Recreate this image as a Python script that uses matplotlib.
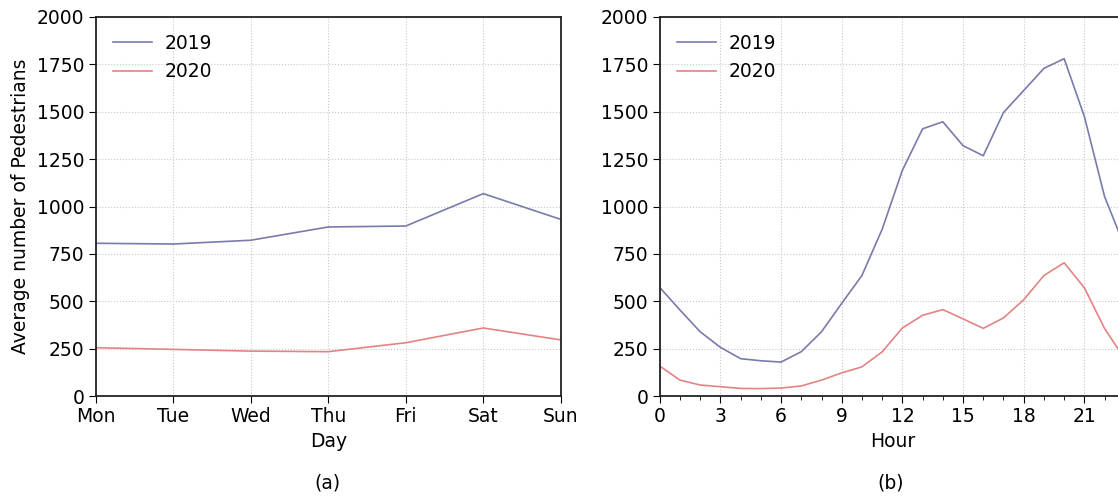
import matplotlib
matplotlib.use("Agg")
import matplotlib.pyplot as plt
from matplotlib.ticker import MultipleLocator

days = ["Mon", "Tue", "Wed", "Thu", "Fri", "Sat", "Sun"]
day_2019 = [806, 802, 822, 892, 897, 1068, 932]
day_2020 = [255, 246, 237, 234, 281, 359, 296]

hours = list(range(24))
hour_2019 = [573, 454, 339, 257, 197, 186, 179, 234, 339, 489, 636, 880,
             1191, 1410, 1447, 1321, 1268, 1496, 1612, 1729, 1780, 1475, 1052, 786]
hour_2020 = [158, 84, 58, 49, 40, 39, 42, 53, 84, 122, 154, 233,
             359, 426, 456, 407, 357, 412, 508, 636, 703, 571, 356, 195]

c19 = "#7a7aac"
c20 = "#e48383"

plt.rcParams["font.size"] = 13.5
fig = plt.figure(figsize=(11.18, 4.97), dpi=100)

# right panel runs a little past the edge of the canvas
ax1 = fig.add_axes([0.0856, 0.2032, 0.416, 0.7626])
ax2 = fig.add_axes([0.5901, 0.2032, 0.416, 0.7626])

ax1.plot(range(len(days)), day_2019, color=c19, lw=1.2, label="2019")
ax1.plot(range(len(days)), day_2020, color=c20, lw=1.2, label="2020")
ax1.set_xticks(range(len(days)))
ax1.set_xticklabels(days)
ax1.set_xlim(0, 6)
ax1.set_xlabel("Day", labelpad=4)
ax1.set_ylabel("Average number of Pedestrians", labelpad=5)

ax2.plot(hours, hour_2019, color=c19, lw=1.2, label="2019")
ax2.plot(hours, hour_2020, color=c20, lw=1.2, label="2020")
ax2.set_xlim(0, 23)
ax2.xaxis.set_major_locator(MultipleLocator(3))
ax2.xaxis.set_minor_locator(MultipleLocator(1))
ax2.set_xlabel("Hour", labelpad=4)

for ax in (ax1, ax2):
    ax.set_ylim(0, 2000)
    ax.yaxis.set_major_locator(MultipleLocator(250))
    ax.grid(True, linestyle=":", color="#c8c8c8", lw=0.8)
    ax.tick_params(length=5, pad=3)
    ax.tick_params(which="minor", length=3)
    for s in ax.spines.values():
        s.set_linewidth(1.3)
        s.set_color("#222222")
    ax.legend(loc="upper left", frameon=False, fontsize=13.5,
              handlelength=2.1, handletextpad=0.7, borderaxespad=0.5)

fig.text(0.293, 0.017, "(a)", ha="center", fontsize=13.5)
fig.text(0.797, 0.017, "(b)", ha="center", fontsize=13.5)

fig.savefig("out.png", dpi=100)
